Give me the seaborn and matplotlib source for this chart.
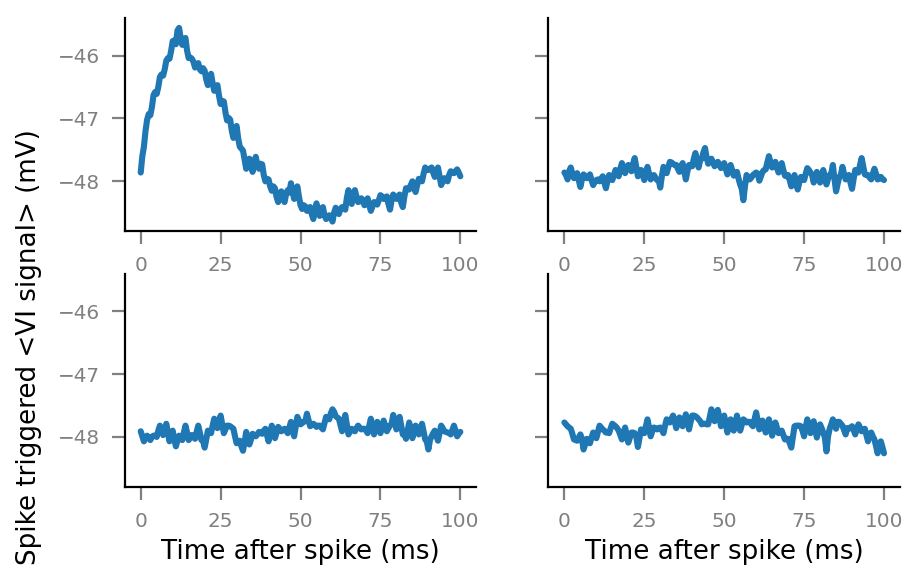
import matplotlib
matplotlib.use("Agg")
import matplotlib.pyplot as plt
import numpy as np
import pandas as pd
import seaborn as sns

# time after spike (ms): whole-ms samples and the half-ms samples in between
time_ms = np.arange(0, 101, 1.0)
time_mid_ms = np.arange(0.5, 100, 1.0)

# spike triggered average of the VI signal (mV)
sta_cell1 = [
    -47.86, -47.45, -47.02, -46.95, -46.63, -46.61, -46.34, -46.32, -46.08, -46.05,
    -45.77, -45.82, -45.56, -45.83, -45.72, -46.04, -46.05, -46.19, -46.12, -46.25,
    -46.24, -46.47, -46.29, -46.56, -46.47, -46.77, -46.73, -47.03, -47.02, -47.31,
    -47.12, -47.45, -47.51, -47.80, -47.64, -47.85, -47.61, -47.80, -47.73, -48.00,
    -47.97, -48.15, -48.11, -48.33, -48.16, -48.33, -48.14, -48.03, -48.28, -48.08,
    -48.38, -48.38, -48.47, -48.41, -48.60, -48.35, -48.55, -48.41, -48.60, -48.54,
    -48.64, -48.42, -48.52, -48.41, -48.45, -48.14, -48.36, -48.14, -48.33, -48.27,
    -48.38, -48.27, -48.47, -48.33, -48.37, -48.22, -48.28, -48.24, -48.45, -48.21,
    -48.28, -48.21, -48.41, -48.11, -48.13, -48.00, -48.17, -47.96, -48.00, -47.78,
    -47.82, -47.78, -47.93, -47.78, -48.06, -47.95, -48.00, -47.84, -47.87, -47.81,
    -47.92,
]
sta_cell1_mid = [
    -47.60, -47.20, -46.93, -46.82, -46.58, -46.50, -46.30, -46.22, -46.04, -45.93,
    -45.76, -45.60, -45.72, -45.74, -45.92, -46.03, -46.10, -46.14, -46.22, -46.20,
    -46.38, -46.36, -46.44, -46.52, -46.64, -46.72, -46.90, -46.99, -47.20, -47.18,
    -47.32, -47.48, -47.66, -47.76, -47.70, -47.70, -47.74, -47.72, -47.90, -47.96,
    -48.08, -48.08, -48.25, -48.20, -48.28, -48.20, -48.18, -48.16, -48.16, -48.24,
    -48.44, -48.40, -48.42, -48.52, -48.46, -48.48, -48.44, -48.54, -48.56, -48.58,
    -48.50, -48.48, -48.44, -48.42, -48.26, -48.28, -48.22, -48.24, -48.32, -48.30,
    -48.34, -48.38, -48.40, -48.34, -48.30, -48.24, -48.28, -48.36, -48.30, -48.26,
    -48.24, -48.34, -48.24, -48.12, -48.06, -48.10, -48.06, -47.98, -47.88, -47.82,
    -47.80, -47.86, -47.84, -47.92, -48.00, -47.98, -47.90, -47.86, -47.84, -47.86,
]
sta_cell2 = [
    -47.86, -47.97, -47.78, -47.95, -47.87, -48.09, -47.89, -47.95, -47.89, -48.06,
    -47.98, -48.00, -47.92, -48.11, -47.90, -47.98, -47.82, -47.92, -47.71, -47.87,
    -47.74, -47.84, -47.63, -47.92, -47.82, -47.98, -47.77, -47.97, -47.90, -47.98,
    -48.10, -47.77, -47.87, -47.69, -47.72, -47.74, -47.85, -47.71, -47.97, -47.74,
    -47.76, -47.55, -47.78, -47.64, -47.47, -47.72, -47.64, -47.76, -47.69, -47.79,
    -47.71, -47.89, -47.74, -47.91, -47.85, -48.05, -48.30, -47.90, -47.97, -47.90,
    -47.86, -47.99, -47.85, -47.81, -47.60, -47.78, -47.69, -47.86, -47.71, -47.91,
    -47.90, -48.08, -47.90, -48.13, -47.93, -47.98, -47.79, -47.86, -48.02, -47.85,
    -48.02, -47.82, -48.05, -47.90, -47.74, -48.16, -47.93, -47.77, -47.97, -47.90,
    -48.12, -47.82, -47.86, -47.63, -47.89, -47.90, -47.97, -47.80, -47.97, -47.93,
    -47.98,
]
sta_cell2_mid = [
    -47.90, -47.84, -47.88, -47.90, -47.98, -47.97, -47.92, -47.93, -47.98, -48.01,
    -47.97, -47.96, -48.02, -47.99, -47.92, -47.90, -47.86, -47.80, -47.79, -47.79,
    -47.78, -47.72, -47.78, -47.86, -47.90, -47.86, -47.88, -47.92, -47.94, -47.98,
    -47.92, -47.82, -47.78, -47.70, -47.74, -47.80, -47.76, -47.84, -47.84, -47.76,
    -47.64, -47.68, -47.66, -47.54, -47.62, -47.68, -47.70, -47.72, -47.74, -47.74,
    -47.80, -47.82, -47.82, -47.88, -47.96, -48.12, -48.08, -47.94, -47.94, -47.88,
    -47.88, -47.92, -47.82, -47.70, -47.70, -47.74, -47.78, -47.78, -47.82, -47.92,
    -47.98, -47.98, -48.02, -48.02, -47.94, -47.88, -47.82, -47.90, -47.94, -47.94,
    -47.92, -47.94, -47.96, -47.88, -47.96, -48.04, -47.90, -47.88, -47.94, -48.02,
    -47.96, -47.84, -47.74, -47.76, -47.90, -47.94, -47.88, -47.88, -47.96, -47.96,
]
sta_cell3 = [
    -47.91, -48.07, -47.98, -48.05, -47.98, -48.00, -47.82, -47.97, -47.79, -48.07,
    -47.90, -48.15, -47.98, -48.05, -47.82, -48.05, -47.97, -48.03, -47.82, -48.05,
    -48.17, -47.90, -47.94, -47.71, -47.86, -47.66, -47.94, -47.82, -47.83, -47.87,
    -48.10, -48.06, -48.22, -47.92, -48.12, -47.95, -47.99, -47.92, -47.95, -47.87,
    -48.07, -47.82, -48.02, -47.84, -47.91, -47.87, -47.94, -47.76, -47.99, -47.68,
    -47.80, -47.76, -47.63, -47.83, -47.79, -47.84, -47.82, -47.88, -47.68, -47.72,
    -47.56, -47.67, -47.71, -47.91, -47.65, -47.96, -47.87, -47.91, -47.82, -47.88,
    -47.87, -47.94, -47.71, -47.96, -47.76, -47.94, -47.74, -47.91, -47.82, -47.65,
    -47.88, -47.68, -47.96, -48.03, -47.77, -48.02, -47.82, -47.96, -47.79, -48.04,
    -48.20, -47.99, -47.90, -48.06, -47.82, -47.91, -47.93, -47.96, -47.82, -47.99,
    -47.92,
]
sta_cell3_mid = [
    -47.99, -48.02, -48.01, -48.00, -47.98, -47.90, -47.89, -47.88, -47.93, -47.99,
    -48.03, -48.06, -48.01, -47.93, -47.93, -48.01, -48.00, -47.92, -47.93, -48.06,
    -48.04, -47.92, -47.82, -47.78, -47.76, -47.80, -47.88, -47.82, -47.85, -47.99,
    -48.08, -48.15, -48.08, -48.02, -48.04, -47.97, -47.96, -47.93, -47.90, -47.97,
    -47.94, -47.92, -47.93, -47.87, -47.89, -47.90, -47.85, -47.88, -47.83, -47.74,
    -47.78, -47.75, -47.73, -47.81, -47.81, -47.82, -47.85, -47.78, -47.70, -47.62,
    -47.60, -47.69, -47.81, -47.78, -47.80, -47.91, -47.89, -47.86, -47.85, -47.87,
    -47.90, -47.82, -47.83, -47.86, -47.85, -47.84, -47.82, -47.86, -47.79, -47.76,
    -47.78, -47.82, -47.94, -47.90, -47.89, -47.92, -47.89, -47.87, -47.91, -48.07,
    -48.05, -47.94, -47.98, -47.94, -47.86, -47.92, -47.94, -47.89, -47.90, -47.95,
]
sta_cell4 = [
    -47.77, -47.83, -47.87, -48.04, -48.06, -47.96, -48.20, -48.03, -48.10, -47.93,
    -48.02, -47.82, -47.88, -47.93, -47.94, -47.79, -47.83, -47.90, -48.04, -47.85,
    -48.09, -47.93, -47.94, -48.16, -47.88, -47.94, -47.72, -47.99, -47.85, -47.88,
    -47.85, -47.94, -47.72, -47.77, -47.66, -47.86, -47.69, -47.83, -47.64, -47.88,
    -47.66, -47.67, -47.72, -47.80, -47.79, -47.80, -47.56, -47.75, -47.57, -47.83,
    -47.66, -47.93, -47.72, -47.90, -47.66, -47.90, -47.72, -47.77, -47.76, -47.83,
    -47.61, -47.88, -47.74, -47.93, -47.72, -47.98, -47.77, -47.94, -47.90, -48.04,
    -48.03, -48.17, -47.83, -47.82, -47.83, -47.99, -47.72, -47.94, -47.75, -48.01,
    -47.80, -47.93, -48.23, -47.87, -47.72, -47.87, -47.76, -47.82, -47.96, -47.87,
    -47.83, -47.96, -47.80, -47.91, -47.87, -48.07, -47.93, -48.04, -48.26, -48.07,
    -48.26,
]
sta_cell4_mid = [
    -47.80, -47.85, -47.95, -48.05, -48.01, -48.03, -48.12, -48.06, -48.01, -47.97,
    -47.92, -47.85, -47.90, -47.93, -47.86, -47.81, -47.86, -47.97, -47.94, -47.97,
    -48.01, -47.93, -48.00, -48.02, -47.90, -47.83, -47.85, -47.91, -47.86, -47.86,
    -47.89, -47.82, -47.74, -47.71, -47.75, -47.77, -47.75, -47.73, -47.75, -47.76,
    -47.66, -47.69, -47.75, -47.79, -47.80, -47.68, -47.65, -47.65, -47.69, -47.74,
    -47.79, -47.82, -47.81, -47.78, -47.78, -47.81, -47.74, -47.76, -47.80, -47.72,
    -47.74, -47.81, -47.84, -47.82, -47.85, -47.87, -47.85, -47.92, -47.97, -48.03,
    -48.10, -48.00, -47.82, -47.82, -47.90, -47.85, -47.83, -47.84, -47.88, -47.90,
    -47.86, -48.01, -47.99, -47.80, -47.79, -47.76, -47.79, -47.89, -47.86, -47.85,
    -47.89, -47.87, -47.85, -47.89, -47.97, -47.95, -47.99, -48.14, -48.16, -48.16,
]

x_ticks = [0, 25, 50, 75, 100]
y_ticks = [-48, -47, -46]

traces = [
    (sta_cell1, sta_cell1_mid),
    (sta_cell2, sta_cell2_mid),
    (sta_cell3, sta_cell3_mid),
    (sta_cell4, sta_cell4_mid),
]

sns.set_style("ticks")

fig, axes = plt.subplots(2, 2, figsize=(4.62, 2.94), dpi=200, sharey=True)
plt.subplots_adjust(left=0.135, right=0.974, bottom=0.172, top=0.969,
                    wspace=0.205, hspace=0.20)

for ax, (sta, sta_mid) in zip(axes.flat, traces):
    df = pd.concat([
        pd.DataFrame({"t": time_ms, "v": sta}),
        pd.DataFrame({"t": time_mid_ms, "v": sta_mid}),
    ]).sort_values("t")
    sns.lineplot(data=df, x="t", y="v", ax=ax, color="#1f77b4", linewidth=2.2,
                 sort=True)
    ax.set_xticks(x_ticks)
    ax.set_yticks(y_ticks)
    ax.set_xlabel("")
    ax.set_ylabel("")
    ax.tick_params(colors="gray", labelsize=7.2, length=4.6, width=0.8, pad=4.3)
    for sp in ["left", "bottom"]:
        ax.spines[sp].set_color("black")
        ax.spines[sp].set_linewidth(0.8)

for ax in axes[1]:
    ax.set_xlabel("Time after spike (ms)", fontsize=9.4, labelpad=3, color="black")

sns.despine(fig=fig)

fig.text(0.031, 0.41, "Spike triggered <VI signal> (mV)", rotation=90,
         ha="center", va="center", fontsize=9.4, color="black")

fig.savefig("out.png", dpi=200)
